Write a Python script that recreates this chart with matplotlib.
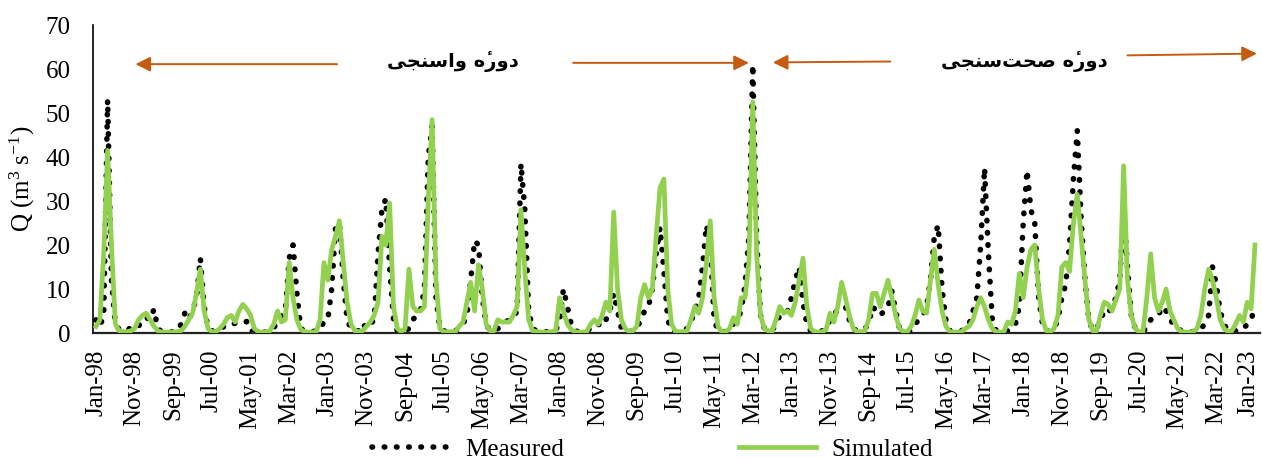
import matplotlib
matplotlib.use('Agg')
import matplotlib.pyplot as plt
import matplotlib.transforms as mtransforms
import pandas as pd
from matplotlib.lines import Line2D

months = pd.date_range('1998-01-01', periods=301, freq='MS')

measured = [
    3, 1.5, 4, 53, 12, 2, 0.8, 0.5, 0.5, 1.3,
    1, 1.5, 3, 3.5, 3, 5.4, 1, 0.3, 0.2, 0.2,
    0.3, 0.5, 2, 4.5, 3, 5, 8, 17, 6, 1,
    0.5, 0.5, 1, 1.4, 2, 2, 2.2, 2.2, 2.5, 2.6,
    0.5, 0.3, 0.3, 0.2, 0.2, 0.5, 1, 3, 4, 5,
    17, 20, 9, 1, 0.5, 0.3, 0.3, 0.5, 1, 2.5,
    3, 10, 24, 25, 12, 3, 1, 0.5, 0.5, 2.2,
    1, 2, 3, 18, 28, 30.5, 15, 3, 0.5, 0.3,
    0.5, 1, 3, 4, 5, 10, 40, 47, 8, 1,
    0.5, 0.3, 0.3, 0.5, 1, 2, 4, 12, 21, 20,
    8, 2, 0.5, 0.5, 1, 1.5, 2.5, 3, 3.5, 5,
    38.5, 28, 5, 1, 0.5, 0.3, 0.3, 0.3, 0.3, 0.5,
    3, 10, 6, 2, 0.5, 0.3, 0.3, 0.5, 1, 2,
    2, 1.5, 3, 5, 9, 5, 1, 0.3, 0.3, 0.5,
    1, 3, 5, 6, 10, 18, 24, 14, 3, 0.5,
    0.3, 0.3, 0.5, 1, 2.5, 5, 8, 15, 24.5, 20,
    3, 0.5, 0.3, 0.3, 1, 2, 3, 5, 11, 22,
    61, 22, 4, 1, 0.5, 0.5, 2, 4, 4, 5,
    8, 12, 15, 7, 2, 0.5, 0.3, 0.3, 0.5, 1,
    3, 4.5, 5, 5.5, 6, 3, 1, 0.5, 0.5, 1,
    2, 6, 5, 4, 5, 6, 9.5, 5, 1, 0.5,
    0.3, 0.5, 2, 3, 4, 6, 12, 22, 24.5, 10,
    3, 0.5, 0.3, 0.3, 0.5, 1, 2, 5, 8, 20,
    37.5, 18, 3, 0.5, 0.3, 0.3, 0.5, 1, 2, 6,
    25, 37, 28, 25, 8, 2, 0.5, 0.3, 1, 3,
    8, 11, 20, 35, 46, 26, 12, 3, 0.5, 1,
    3, 5, 4.5, 6, 8, 12, 28, 15, 4, 1,
    0.5, 0.5, 1, 3, 3.5, 4, 6, 5, 3, 2,
    1, 0.5, 0.3, 0.3, 0.3, 0.5, 1, 2, 4, 15,
    11, 5, 2, 0.5, 0.5, 0.5, 1, 1, 2, 3,
    6,
]

simulated = [
    1.5, 3, 18, 41.5, 20, 2, 0.5, 0.3, 0.3, 0.5,
    1, 3, 4, 4.5, 3, 1.5, 0.5, 0.2, 0.2, 0.2,
    0.2, 0.3, 0.5, 1.5, 3, 4.5, 9, 14.5, 5, 1,
    0.3, 0.3, 1, 2, 3.5, 4, 2.5, 5, 6.5, 5.5,
    4, 1, 0.3, 0.2, 0.2, 0.5, 2, 5, 2.5, 3,
    16, 8, 3, 0.8, 0.3, 0.2, 0.2, 0.3, 3, 16,
    12, 19, 22, 25.5, 16, 7, 2, 0.5, 0.3, 0.5,
    1.5, 2.5, 4, 7, 22, 20, 29.5, 6, 1, 0.3,
    1, 14.5, 6, 5, 5, 6, 30, 48.5, 12, 1,
    0.3, 0.3, 0.3, 0.3, 1.5, 2.5, 7, 11.5, 5, 15.5,
    10, 2, 0.5, 0.5, 3, 2.5, 2.5, 2.5, 4, 6,
    28, 14, 3, 0.5, 0.3, 0.2, 0.2, 0.2, 0.3, 0.5,
    8, 5, 2, 0.8, 0.3, 0.2, 0.2, 0.3, 2, 3,
    2, 4, 7, 5, 27.5, 10, 3, 1, 0.3, 0.5,
    1.5, 8, 11, 8, 10, 22, 33, 35, 10, 2,
    0.3, 0.3, 0.3, 0.5, 3, 6, 4.5, 8, 16, 25.5,
    8, 1.5, 0.3, 0.3, 1, 3.5, 2, 8, 8, 16,
    52.5, 18, 4, 1, 0.5, 0.3, 3, 6, 4.5, 5,
    4, 7, 12, 17, 6, 1, 0.3, 0.2, 0.3, 0.8,
    4.5, 2.5, 6, 11.5, 8, 4, 1, 0.3, 0.3, 0.5,
    3, 9, 9, 6, 9, 12, 8, 4, 1, 0.3,
    0.3, 1.5, 4, 7.5, 5, 4.5, 12, 19, 11, 5,
    1.5, 0.3, 0.2, 0.2, 0.3, 1, 1.5, 3, 6, 8,
    6, 3, 1, 0.3, 0.2, 0.3, 2.5, 2, 5, 13.5,
    8, 15, 19, 20, 10, 3, 0.5, 0.3, 1, 4,
    15, 16, 14, 25, 31.5, 22, 12, 3, 0.5, 0.5,
    4, 7, 6.5, 5, 7.5, 10, 38, 12, 4, 1,
    0.3, 0.3, 8, 18, 8, 5, 7, 10, 5, 3,
    1, 0.3, 0.2, 0.2, 0.3, 1, 4, 10, 14.5, 12,
    8, 3, 1, 0.3, 0.5, 2, 4, 2.5, 7, 5.5,
    20,
]

tick_step = 10
y_ticks = [0, 10, 20, 30, 40, 50, 60, 70]

# Persian labels, pre-shaped (presentation forms, visual order)
calib_label = '\uFEF0\uFEA0\uFEE8\uFEB3\uFE8D\uFEED \uFEE9\u0654\uFEAD\uFEED\uFEA9'   # دورهٔ واسنجی
valid_label = '\uFEF0\uFEA0\uFEE8\uFEB3\uFE96\uFEA4\uFEBB \uFEE9\u0654\uFEAD\uFEED\uFEA9'  # دورهٔ صحت‌سنجی

plt.rcParams['font.family'] = ['Liberation Serif', 'DejaVu Serif']
plt.rcParams['mathtext.fontset'] = 'custom'
plt.rcParams['mathtext.rm'] = 'Liberation Serif'
plt.rcParams['mathtext.it'] = 'Liberation Serif:italic'

FS = 18
x = list(range(len(months)))

fig = plt.figure(figsize=(12.62, 4.59), dpi=100)
ax = fig.add_axes([93 / 1262, 126 / 459, 1167 / 1262, 308 / 459])

meas_style = dict(color='black', lw=4, linestyle=(0, (0.1, 2.1)), dash_capstyle='round')
sim_style = dict(color='#92D050', lw=3.4, solid_joinstyle='round')

ax.plot(x, measured, zorder=2, **meas_style)
ax.plot(x, simulated, zorder=3, **sim_style)

ax.set_xlim(-0.78, 301.3)
ax.set_ylim(0, 70)
ax.set_yticks(y_ticks)
ax.set_yticklabels([str(v) for v in y_ticks], fontsize=FS)
ax.set_xticks(x[::tick_step])
ax.set_xticklabels([d.strftime('%b-%y') for d in months[::tick_step]],
                   rotation=90, fontsize=FS)
ax.tick_params(axis='both', length=0)
ax.tick_params(axis='y', pad=16)
ax.tick_params(axis='x', pad=12)

# nudge the last label so it stays inside the figure
last = ax.get_xticklabels()[-1]
last.set_transform(last.get_transform() +
                   mtransforms.ScaledTranslation(-6 / 100, 0, fig.dpi_scale_trans))

for s in ['top', 'right']:
    ax.spines[s].set_visible(False)
ax.spines['left'].set_linewidth(1.2)
ax.spines['bottom'].set_linewidth(1.6)
ax.spines['bottom'].set_color('#222222')

ax.set_ylabel('Q (m$^{3}$ s$^{\\mathregular{-1}}$)', fontsize=FS, labelpad=6)

# period arrows and labels
arrow_col = '#C55A11'
arrows = [((62.4, 61.1), (10.2, 61.1)),
          ((123.5, 61.4), (169.0, 61.4)),
          ((205.6, 61.7), (175.2, 61.5)),
          ((267.0, 63.1), (300.5, 63.5))]
for tail, head in arrows:
    ax.annotate('', xy=head, xytext=tail,
                arrowprops=dict(arrowstyle='-|>,head_length=0.9,head_width=0.45',
                                color=arrow_col, lw=1.4, shrinkA=0, shrinkB=0))

ax.text(92.3, 61.6, calib_label, ha='center', va='center', fontsize=14,
        fontweight='bold', family=['DejaVu Sans'])
ax.text(240.2, 61.6, valid_label, ha='center', va='center', fontsize=14,
        fontweight='bold', family=['DejaVu Sans'])

handles = [Line2D([0], [0], **meas_style), Line2D([0], [0], **sim_style)]
fig.legend(handles, ['Measured', 'Simulated'], loc='center', ncol=2,
           bbox_to_anchor=(0.517, 0.02), frameon=False, fontsize=FS,
           handlelength=3.1, columnspacing=7.0, handletextpad=0.6)

plt.savefig('out.png', dpi=100)
